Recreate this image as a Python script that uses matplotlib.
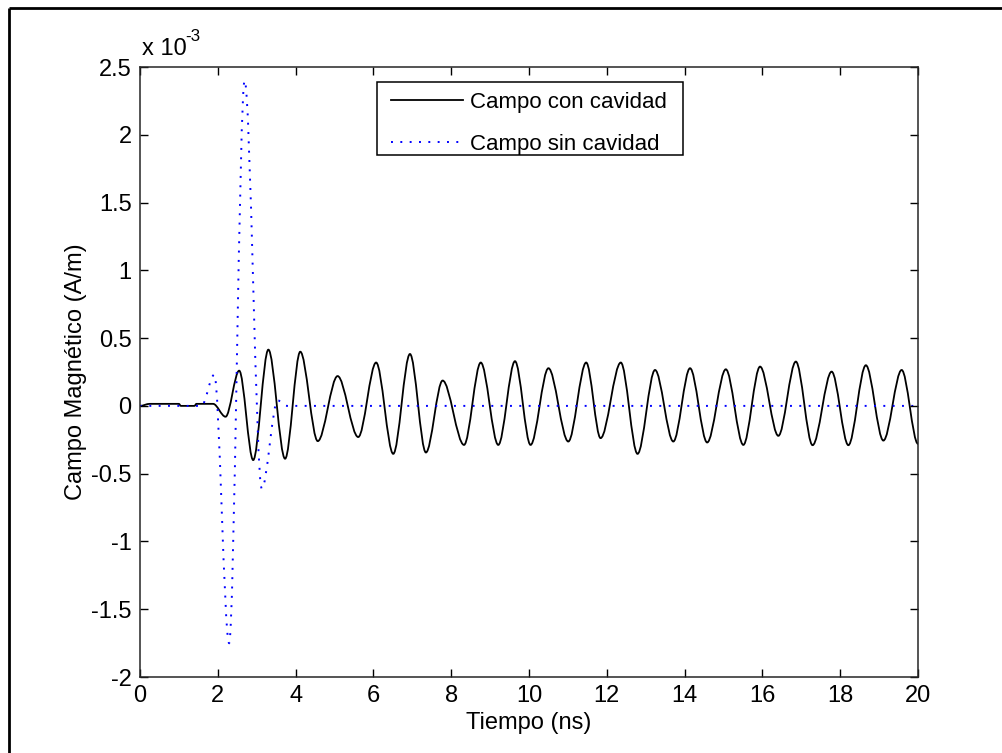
import matplotlib
matplotlib.use("Agg")
import matplotlib.pyplot as plt
from matplotlib.path import Path
from matplotlib.patches import PathPatch, Rectangle
from matplotlib.lines import Line2D

plt.rcParams['font.family'] = ['Liberation Sans', 'DejaVu Sans']

# Turning points of the magnetic field with the cavity (time in ns, field in 1e-3 A/m)
t_con = [0.0, 0.25, 1.0, 1.05, 1.4, 1.45, 1.88, 2.20, 2.55, 2.91, 3.30, 3.73, 4.12,
         4.57, 5.08, 5.61, 6.07, 6.51, 6.94, 7.35, 7.78, 8.33, 8.76, 9.21, 9.64,
         10.04, 10.50, 11.01, 11.47, 11.84, 12.36, 12.79, 13.24, 13.71, 14.14,
         14.58, 15.06, 15.51, 15.94, 16.41, 16.86, 17.29, 17.78, 18.21, 18.66,
         19.11, 19.58, 20.0]
h_con = [0.0, 0.015, 0.015, 0.0, 0.0, 0.015, 0.015, -0.08, 0.26, -0.40, 0.415, -0.39,
         0.40, -0.26, 0.22, -0.23, 0.32, -0.354, 0.383, -0.344, 0.187, -0.288, 0.32,
         -0.288, 0.33, -0.288, 0.278, -0.263, 0.32, -0.238, 0.32, -0.354, 0.265,
         -0.263, 0.278, -0.27, 0.27, -0.288, 0.29, -0.221, 0.327, -0.29, 0.253,
         -0.29, 0.30, -0.256, 0.265, -0.28]

# Turning points of the magnetic field without the cavity
t_sin = [0.0, 1.58, 1.91, 2.29, 2.69, 3.13, 3.54, 3.78, 20.0]
h_sin = [0.0, 0.0, 0.23, -1.75, 2.40, -0.61, 0.04, 0.0, 0.0]

x_ticks = [0, 2, 4, 6, 8, 10, 12, 14, 16, 18, 20]
y_ticks = [-2, -1.5, -1, -0.5, 0, 0.5, 1, 1.5, 2, 2.5]
y_tick_labels = ['-2', '-1.5', '-1', '-0.5', '0', '0.5', '1', '1.5', '2', '2.5']
legend_labels = ['Campo con cavidad', 'Campo sin cavidad']


def smooth_path(t, v):
    """Cubic Bezier path with flat tangents at every turning point."""
    verts = [(t[0], v[0])]
    codes = [Path.MOVETO]
    for i in range(1, len(t)):
        dt = t[i] - t[i - 1]
        verts += [(t[i - 1] + dt / 3, v[i - 1]), (t[i] - dt / 3, v[i]), (t[i], v[i])]
        codes += [Path.CURVE4] * 3
    return Path(verts, codes)


FS = 17
LEG_FS = 16
dotted = (0, (1, 3.8))

W, H = 1003, 753
fig = plt.figure(figsize=(W / 100, H / 100), dpi=100)
ax = fig.add_axes([140 / W, 1 - 677 / H, 778 / W, 610 / H])


def ax_x(px):
    return (px - 140) / 778


def ax_y(py):
    return (677 - py) / 610


ax.add_patch(PathPatch(smooth_path(t_con, h_con), fill=False, edgecolor='black',
                       lw=1.3, capstyle='round', joinstyle='round'))
ax.add_patch(PathPatch(smooth_path(t_sin, h_sin), fill=False, edgecolor='blue',
                       lw=1.4, linestyle=dotted))

ax.set_xlim(0, 20)
ax.set_ylim(-2, 2.5)
ax.set_xticks(x_ticks)
ax.set_xticklabels([str(v) for v in x_ticks])
ax.set_yticks(y_ticks)
ax.set_yticklabels(y_tick_labels)
ax.tick_params(direction='in', length=6, width=1, top=True, right=True,
               labelsize=FS, colors='black', pad=6)
for s in ax.spines.values():
    s.set_linewidth(1.1)
    s.set_color('#262626')

ax.set_xlabel('Tiempo (ns)', fontsize=FS, labelpad=3)
ax.set_ylabel('Campo Magnético (A/m)', fontsize=FS, labelpad=3)

# exponent of the y axis
ax.text(ax_x(142), 1.012, 'x 10', transform=ax.transAxes, fontsize=FS,
        ha='left', va='bottom')
ax.text(ax_x(185), 1.038, '-3', transform=ax.transAxes, fontsize=FS * 0.72,
        ha='left', va='bottom')

handles = [Line2D([], [], color='black', lw=1.3),
           Line2D([], [], color='blue', lw=1.4, linestyle=dotted)]
leg = ax.legend(handles, legend_labels, loc='upper left',
                bbox_to_anchor=(ax_x(381), ax_y(82)), fontsize=LEG_FS,
                frameon=False, handlelength=3.24, handletextpad=0.32,
                borderpad=0.45, labelspacing=0.93, borderaxespad=0)
# legend box outline
ax.add_patch(Rectangle((ax_x(377), ax_y(155)), ax_x(683) - ax_x(377),
                       ax_y(82) - ax_y(155), transform=ax.transAxes,
                       facecolor='white', edgecolor='black', lw=1.1, zorder=4))
leg.set_zorder(5)

# window frame along the top and left edges
fig.add_artist(Line2D([9 / W, 1], [1 - 8 / H, 1 - 8 / H], color='black',
                      lw=2, transform=fig.transFigure, solid_capstyle='butt'))
fig.add_artist(Line2D([9 / W, 9 / W], [0, 1 - 8 / H], color='black',
                      lw=2, transform=fig.transFigure, solid_capstyle='butt'))

fig.savefig('out.png', dpi=100, facecolor='white')
